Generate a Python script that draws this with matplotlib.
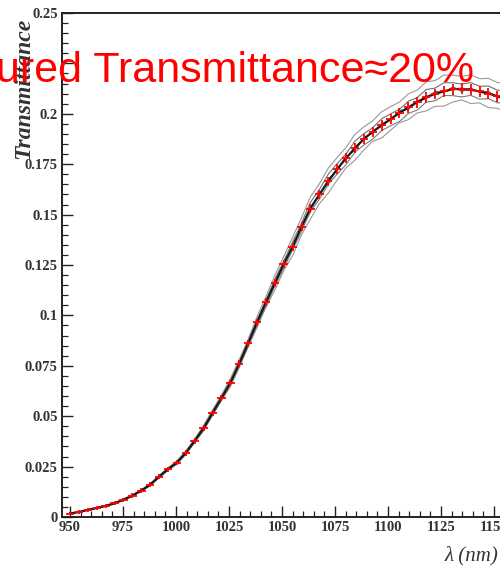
import matplotlib
matplotlib.use('Agg')
from matplotlib import pyplot as plt
from matplotlib.ticker import MultipleLocator

# wavelengths of the averaged points (nm)
wavelength = [950.0, 954.2, 958.4, 962.6, 966.8, 971.0, 975.2, 979.4, 983.6, 987.8,
              992.0, 996.2, 1000.4, 1004.6, 1008.8, 1013.0, 1017.2, 1021.4, 1025.6, 1029.8,
              1034.0, 1038.2, 1042.4, 1046.6, 1050.8, 1055.0, 1059.2, 1063.4, 1067.6, 1071.8,
              1076.0, 1080.2, 1084.4, 1088.6, 1092.8, 1097.0, 1101.2, 1105.4, 1109.6, 1113.8,
              1118.0, 1122.2, 1126.4, 1130.6, 1134.8, 1139.0, 1143.2, 1147.4, 1151.6, 1155.8]

# mean transmittance
mean_t = [0.0017, 0.0025, 0.0035, 0.0045, 0.0055, 0.0068, 0.0086, 0.0106, 0.0131, 0.0160,
          0.0200, 0.0237, 0.0270, 0.0318, 0.0378, 0.0440, 0.0516, 0.0590, 0.0665, 0.0760,
          0.0862, 0.0965, 0.1065, 0.1160, 0.1255, 0.1340, 0.1440, 0.1530, 0.1600, 0.1665,
          0.1725, 0.1780, 0.1830, 0.1875, 0.1912, 0.1942, 0.1974, 0.2004, 0.2032, 0.2058,
          0.2083, 0.2098, 0.2112, 0.2122, 0.2124, 0.2119, 0.2111, 0.2100, 0.2088, 0.2075]

# error on the mean
err_t = [0.0008, 0.0008, 0.0008, 0.0009, 0.0009, 0.0010, 0.0010, 0.0011, 0.0011, 0.0012,
         0.0012, 0.0013, 0.0013, 0.0014, 0.0014, 0.0015, 0.0015, 0.0016, 0.0016, 0.0017,
         0.0018, 0.0018, 0.0019, 0.0020, 0.0020, 0.0021, 0.0022, 0.0022, 0.0023, 0.0023,
         0.0024, 0.0024, 0.0025, 0.0025, 0.0025, 0.0026, 0.0026, 0.0026, 0.0026, 0.0027,
         0.0027, 0.0027, 0.0027, 0.0027, 0.0027, 0.0027, 0.0027, 0.0027, 0.0027, 0.0027]

# individual measurements, deviation from the mean in percent
dev_a = [4.0, 3.2, 3.8, 2.9, 3.5, 4.1, 3.0, 3.6, 2.8, 3.9, 3.3, 2.7, 3.6, 3.1, 2.5, 3.4, 2.9,
         2.4, 3.2, 2.8, 2.2, 3.0, 2.6, 3.3, 2.9, 3.6, 3.1, 3.8, 3.3, 3.9, 3.4, 3.0, 3.7, 3.2,
         2.8, 3.5, 3.1, 2.7, 3.3, 2.9, 3.6, 3.2, 3.8, 3.3, 2.9, 3.5, 3.0, 3.6, 3.2, 3.7]
dev_b = [-3.6, -2.9, -3.4, -2.6, -3.1, -3.7, -2.8, -3.3, -2.5, -3.5, -2.9, -2.4, -3.2, -2.7,
         -2.2, -3.0, -2.6, -2.1, -2.9, -2.5, -2.0, -2.7, -2.3, -3.0, -2.6, -3.2, -2.8, -3.4,
         -2.9, -3.5, -3.1, -2.7, -3.3, -2.9, -2.5, -3.2, -2.8, -2.4, -3.0, -2.6, -3.3, -2.9,
         -3.5, -3.0, -2.6, -3.2, -2.7, -3.3, -2.9, -3.4]
dev_c = [1.6, 1.1, 1.8, 1.2, 1.5, 2.0, 1.0, 1.7, 1.3, 1.9, 1.4, 0.9, 1.6, 1.2, 0.8, 1.5, 1.1,
         0.7, 1.4, 1.0, 0.8, 1.3, 0.9, 1.6, 1.2, 1.8, 1.3, 2.0, 1.5, 2.1, 1.6, 1.2, 1.9, 1.4,
         1.0, 1.7, 1.3, 0.9, 1.5, 1.1, 1.8, 1.4, 2.0, 1.5, 1.1, 1.7, 1.2, 1.8, 1.4, 1.9]
dev_d = [-1.4, -1.9, -1.1, -1.7, -1.3, -0.9, -1.8, -1.2, -1.6, -1.0, -1.5, -1.9, -1.2, -1.6,
         -2.0, -1.3, -1.7, -2.1, -1.4, -1.8, -2.0, -1.5, -1.9, -1.3, -1.7, -1.1, -1.6, -1.0,
         -1.5, -0.9, -1.4, -1.8, -1.1, -1.6, -2.0, -1.3, -1.7, -2.1, -1.5, -1.9, -1.2, -1.6,
         -1.0, -1.5, -1.9, -1.3, -1.8, -1.2, -1.6, -1.1]
dev_e = [0.4, -0.3, 0.6, -0.5, 0.2, 0.7, -0.4, 0.5, -0.2, 0.6, -0.5, 0.3, -0.6, 0.4, -0.3,
         0.5, -0.4, 0.2, -0.5, 0.6, -0.2, 0.4, -0.6, 0.3, -0.4, 0.7, -0.3, 0.5, -0.5, 0.6,
         -0.2, 0.4, -0.6, 0.3, -0.4, 0.5, -0.3, 0.6, -0.5, 0.2, -0.4, 0.6, -0.3, 0.5, -0.6,
         0.4, -0.2, 0.5, -0.4, 0.3]

xticks = [950, 975, 1000, 1025, 1050, 1075, 1100, 1125, 1150]
yticks = [0, 0.025, 0.05, 0.075, 0.1, 0.125, 0.15, 0.175, 0.2, 0.225, 0.25]
ytick_labels = ['0', '0.025', '0.05', '0.075', '0.1', '0.125', '0.15', '0.175', '0.2', '', '0.25']

fig = plt.figure(figsize=(5, 5.7), dpi=100)
ax = fig.add_axes([62 / 500, 53 / 570, 485 / 500, 504 / 570])

# gray individual spectra
gray_styles = [(dev_a, '#999999', 0.8), (dev_b, '#999999', 0.8),
               (dev_c, '#707070', 0.8), (dev_d, '#7a7a7a', 0.8), (dev_e, '#555555', 0.9)]
for dev, col, lw in gray_styles:
    curve = [t * (1 + d / 100.0) for t, d in zip(mean_t, dev)]
    ax.plot(wavelength, curve, color=col, lw=lw, zorder=2)

# black mean line
ax.plot(wavelength, mean_t, color='#1a1a1a', lw=1.6, zorder=3)

# red points with error bars
ax.errorbar(wavelength, mean_t, yerr=err_t, xerr=2.0, fmt='none',
            ecolor='#ff0000', elinewidth=1.3, capsize=0, zorder=4)

ax.set_xlim(946.2, 1175)
ax.set_ylim(0, 0.25)

ax.set_xticks(xticks)
ax.xaxis.set_minor_locator(MultipleLocator(5))
ax.set_yticks(yticks)
ax.set_yticklabels(ytick_labels)
ax.yaxis.set_minor_locator(MultipleLocator(0.005))

ax.tick_params(which='both', direction='in', top=False, right=False, colors='#222222')
ax.tick_params(which='major', length=8, width=1.0, pad=3)
ax.tick_params(which='minor', length=4, width=0.9)
for lab in ax.get_xticklabels() + ax.get_yticklabels():
    lab.set_fontfamily('Liberation Serif')
    lab.set_fontweight('bold')
    lab.set_fontsize(10.5)
    lab.set_color('#333333')

for side in ['left', 'top', 'bottom']:
    ax.spines[side].set_linewidth(1.4)
    ax.spines[side].set_color('#222222')

fig.text(24 / 500, 1 - 88 / 570, 'Transmittance', rotation=90, ha='center', va='center',
         fontfamily='Liberation Serif', fontstyle='italic', fontweight='bold',
         fontsize=17, color='#333333')
fig.text(445 / 500, 1 - 556 / 570, 'λ (nm)', ha='left', va='center',
         fontfamily='Liberation Serif', fontstyle='italic', fontsize=15, color='#333333')

fig.text(-4 / 500, 1 - 82 / 570, 'ured Transmittance≈20%', ha='left', va='baseline',
         family=['Liberation Sans', 'DejaVu Sans'], fontsize=31, color='#ff0000', zorder=10)

fig.savefig('out.png', dpi=100)
